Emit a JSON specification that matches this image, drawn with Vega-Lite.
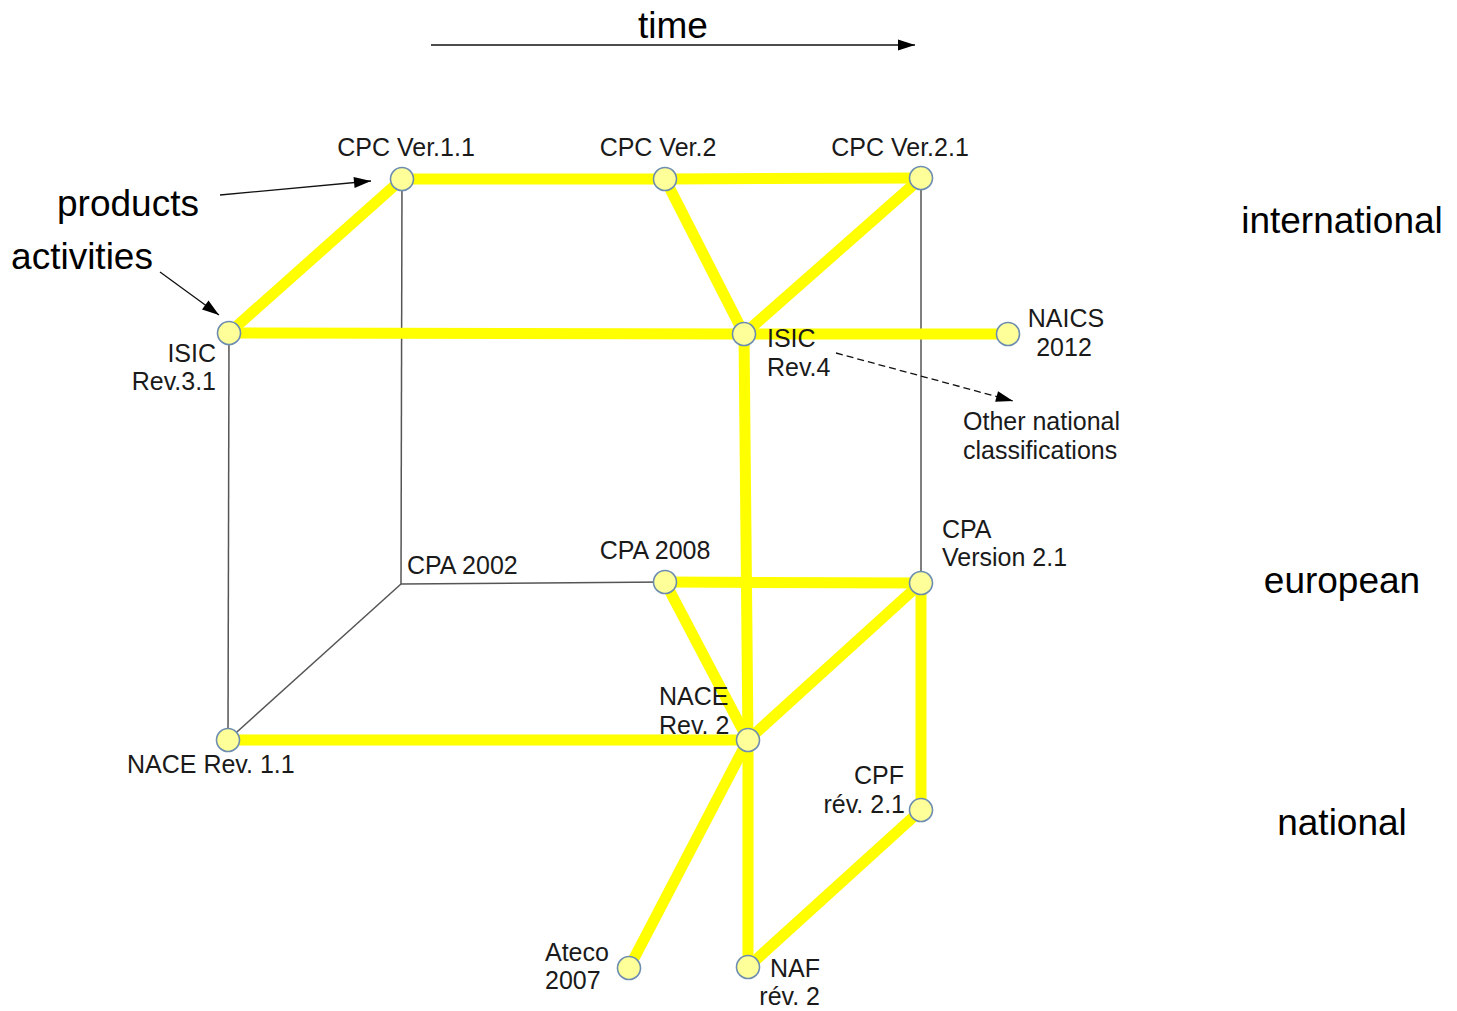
{
  "$schema": "https://vega.github.io/schema/vega-lite/v6.json",
  "width": 1457,
  "height": 1011,
  "autosize": {"type": "none"},
  "padding": 0,
  "background": "white",
  "config": {"view": {"stroke": null}, "text": {"font": "Liberation Sans"}},
  "datasets": {
    "nodes": [
      {"id": "cpc11", "x": 402, "y": 179, "kind": "node"},
      {"id": "cpc2", "x": 665, "y": 179, "kind": "node"},
      {"id": "cpc21", "x": 921, "y": 178, "kind": "node"},
      {"id": "isic31", "x": 229, "y": 333, "kind": "node"},
      {"id": "isic4", "x": 744, "y": 334, "kind": "node"},
      {"id": "naics", "x": 1008, "y": 334, "kind": "node"},
      {"id": "cpa2002", "x": 401, "y": 584, "kind": "corner"},
      {"id": "cpa2008", "x": 665, "y": 582, "kind": "node"},
      {"id": "cpa21", "x": 921, "y": 583, "kind": "node"},
      {"id": "nace11", "x": 228, "y": 740, "kind": "node"},
      {"id": "nace2", "x": 748, "y": 740, "kind": "node"},
      {"id": "cpf", "x": 921, "y": 810, "kind": "node"},
      {"id": "ateco", "x": 629, "y": 968, "kind": "node"},
      {"id": "naf", "x": 748, "y": 967, "kind": "node"}
    ],
    "thick": [
      {"source": "isic31", "target": "cpc11"},
      {"source": "cpc11", "target": "cpc2"},
      {"source": "cpc2", "target": "cpc21"},
      {"source": "cpc2", "target": "isic4"},
      {"source": "cpc21", "target": "isic4"},
      {"source": "isic31", "target": "isic4"},
      {"source": "isic4", "target": "naics"},
      {"source": "isic4", "target": "nace2"},
      {"source": "cpa2008", "target": "cpa21"},
      {"source": "cpa2008", "target": "nace2"},
      {"source": "cpa21", "target": "nace2"},
      {"source": "nace11", "target": "nace2"},
      {"source": "cpa21", "target": "cpf"},
      {"source": "nace2", "target": "ateco"},
      {"source": "nace2", "target": "naf"},
      {"source": "cpf", "target": "naf"}
    ],
    "thin": [
      {"source": "cpc11", "target": "cpa2002"},
      {"source": "isic31", "target": "nace11"},
      {"source": "cpa2002", "target": "nace11"},
      {"source": "cpa2002", "target": "cpa2008"},
      {"source": "cpc21", "target": "cpa21"}
    ],
    "arrows": [
      {"name": "time", "x": 431, "y": 45, "x2": 915, "y2": 45, "angle": 0},
      {"name": "products", "x": 220, "y": 195, "x2": 371, "y2": 181, "angle": -5.3},
      {"name": "activities", "x": 160, "y": 272, "x2": 219, "y2": 315, "angle": 36}
    ],
    "dashed": [
      {"name": "other", "x": 836, "y": 353, "x2": 1013, "y2": 401, "angle": 15.2}
    ],
    "labelsLeft": [
      {"text": "ISIC", "x": 767, "y": 338},
      {"text": "Rev.4", "x": 767, "y": 367},
      {"text": "Other national", "x": 963, "y": 421},
      {"text": "classifications", "x": 963, "y": 450},
      {"text": "CPA", "x": 942, "y": 529},
      {"text": "Version 2.1", "x": 942, "y": 557},
      {"text": "CPA 2002", "x": 407, "y": 565},
      {"text": "NACE", "x": 659, "y": 696},
      {"text": "Rev. 2", "x": 659, "y": 725},
      {"text": "NACE Rev. 1.1", "x": 127, "y": 764},
      {"text": "Ateco", "x": 545, "y": 952},
      {"text": "2007", "x": 545, "y": 980}
    ],
    "labelsCenter": [
      {"text": "CPC Ver.1.1", "x": 406, "y": 147},
      {"text": "CPC Ver.2", "x": 658, "y": 147},
      {"text": "CPC Ver.2.1", "x": 900, "y": 147},
      {"text": "NAICS", "x": 1066, "y": 318},
      {"text": "2012", "x": 1064, "y": 347},
      {"text": "CPA 2008", "x": 655, "y": 550}
    ],
    "labelsRight": [
      {"text": "ISIC", "x": 216, "y": 353},
      {"text": "Rev.3.1", "x": 216, "y": 381},
      {"text": "CPF", "x": 904, "y": 775},
      {"text": "rév. 2.1", "x": 905, "y": 804},
      {"text": "NAF", "x": 820, "y": 968},
      {"text": "rév. 2", "x": 820, "y": 996}
    ],
    "bigLabels": [
      {"text": "time", "x": 673, "y": 25},
      {"text": "products", "x": 128, "y": 203},
      {"text": "activities", "x": 82, "y": 256},
      {"text": "international", "x": 1342, "y": 220},
      {"text": "european", "x": 1342, "y": 580},
      {"text": "national", "x": 1342, "y": 822}
    ]
  },
  "encoding": {
    "x": {"field": "x", "type": "quantitative", "scale": {"domain": [0, 1457], "nice": false, "zero": false}, "axis": null},
    "y": {"field": "y", "type": "quantitative", "scale": {"domain": [0, 1011], "nice": false, "zero": false, "reverse": true}, "axis": null}
  },
  "layer": [
    {
      "data": {"name": "thin"},
      "transform": [
        {"lookup": "source", "from": {"data": {"name": "nodes"}, "key": "id", "fields": ["x", "y"]}, "as": ["x", "y"]},
        {"lookup": "target", "from": {"data": {"name": "nodes"}, "key": "id", "fields": ["x", "y"]}, "as": ["x2", "y2"]}
      ],
      "mark": {"type": "rule", "color": "#555555", "strokeWidth": 1.5},
      "encoding": {"x2": {"field": "x2"}, "y2": {"field": "y2"}}
    },
    {
      "data": {"name": "thick"},
      "transform": [
        {"lookup": "source", "from": {"data": {"name": "nodes"}, "key": "id", "fields": ["x", "y"]}, "as": ["x", "y"]},
        {"lookup": "target", "from": {"data": {"name": "nodes"}, "key": "id", "fields": ["x", "y"]}, "as": ["x2", "y2"]}
      ],
      "mark": {"type": "rule", "color": "#ffff00", "strokeWidth": 11, "strokeCap": "round"},
      "encoding": {"x2": {"field": "x2"}, "y2": {"field": "y2"}}
    },
    {
      "data": {"name": "nodes"},
      "transform": [{"filter": "datum.kind === 'node'"}],
      "mark": {"type": "point", "shape": "circle", "filled": true, "fill": "#ffff99", "stroke": "#6d8db0", "strokeWidth": 1.6, "opacity": 1, "size": 530}
    },
    {
      "data": {"name": "arrows"},
      "mark": {"type": "rule", "color": "#111111", "strokeWidth": 1.3},
      "encoding": {"x2": {"field": "x2"}, "y2": {"field": "y2"}}
    },
    {
      "data": {"name": "dashed"},
      "mark": {"type": "rule", "color": "#111111", "strokeWidth": 1.3, "strokeDash": [7, 4]},
      "encoding": {"x2": {"field": "x2"}, "y2": {"field": "y2"}}
    },
    {
      "data": {"name": "arrows"},
      "mark": {"type": "point", "shape": "M0,0L-2,-0.65L-2,0.65Z", "filled": true, "color": "#000000", "opacity": 1, "size": 289},
      "encoding": {
        "x": {"field": "x2", "type": "quantitative"},
        "y": {"field": "y2", "type": "quantitative"},
        "angle": {"field": "angle", "type": "quantitative", "scale": null}
      }
    },
    {
      "data": {"name": "dashed"},
      "mark": {"type": "point", "shape": "M0,0L-2,-0.65L-2,0.65Z", "filled": true, "color": "#000000", "opacity": 1, "size": 289},
      "encoding": {
        "x": {"field": "x2", "type": "quantitative"},
        "y": {"field": "y2", "type": "quantitative"},
        "angle": {"field": "angle", "type": "quantitative", "scale": null}
      }
    },
    {
      "data": {"name": "labelsLeft"},
      "mark": {"type": "text", "align": "left", "baseline": "middle", "fontSize": 25, "dy": 1, "color": "#1a1a1a"},
      "encoding": {"text": {"field": "text"}}
    },
    {
      "data": {"name": "labelsCenter"},
      "mark": {"type": "text", "align": "center", "baseline": "middle", "fontSize": 25, "dy": 1, "color": "#1a1a1a"},
      "encoding": {"text": {"field": "text"}}
    },
    {
      "data": {"name": "labelsRight"},
      "mark": {"type": "text", "align": "right", "baseline": "middle", "fontSize": 25, "dy": 1, "color": "#1a1a1a"},
      "encoding": {"text": {"field": "text"}}
    },
    {
      "data": {"name": "bigLabels"},
      "mark": {"type": "text", "align": "center", "baseline": "middle", "fontSize": 37, "dy": 2, "color": "#000000"},
      "encoding": {"text": {"field": "text"}}
    }
  ]
}
